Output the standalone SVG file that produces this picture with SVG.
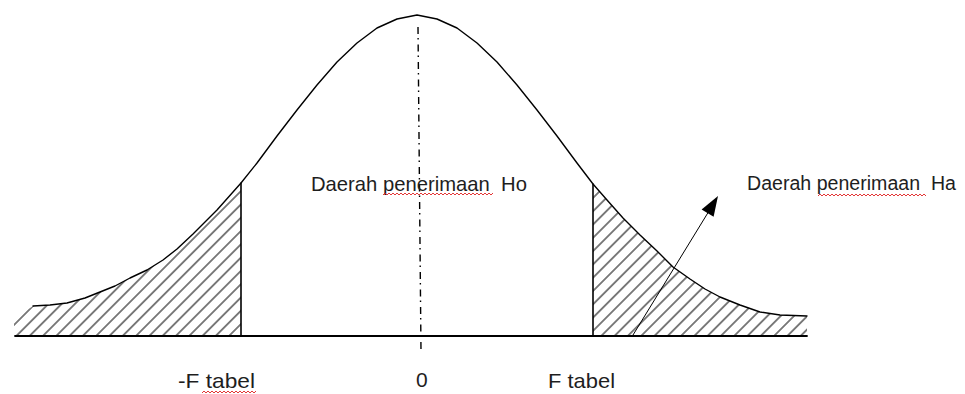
<svg xmlns="http://www.w3.org/2000/svg" width="965" height="394" viewBox="0 0 965 394">
<style>
.ln{fill:none;stroke:#000;stroke-width:1.4;stroke-linejoin:round;stroke-linecap:round}
.tx{font-family:"Liberation Sans",Arial,sans-serif;font-size:21px;fill:#1e1e1e}
.sq{fill:none;stroke:#e02020;stroke-width:0.9}
</style>
<defs>
<pattern id="hatch" patternUnits="userSpaceOnUse" width="9.4" height="10" patternTransform="rotate(45)">
<line x1="4.7" y1="-1" x2="4.7" y2="11" stroke="#000" stroke-width="1"/>
</pattern>
</defs>
<rect width="965" height="394" fill="#fff"/>
<g id="hatch-left">
<path d="M14,336 L14,318 L33,306 L50,305 L67,303 L85,298 L100,292 L115,286 L130,278 L147,270 L163,260 L177,249 L193,234 L217,210 L241,183 L241,336 Z" fill="url(#hatch)"/>
</g>
<g id="hatch-right">
<path d="M593,184 L607,200 L623,218 L640,235 L657,251 L673,267 L690,279 L705,289 L720,297 L740,305 L760,312 L780,315 L807,316 L807,336 L593,336 Z" fill="url(#hatch)"/>
</g>
<g id="curve">
<path class="ln" d="M33,306 L50,305 L67,303 L85,298 L100,292 L115,286 L130,278 L147,270 L163,260 L177,249 L193,234 L217,210 L241,183 L257,163 L277,136 L297,110 L317,85 L337,62 L357,43 L377,28 L397,19 L417,15 L437,19 L457,28 L477,43 L497,62 L517,85 L537,110 L557,136 L577,163 L593,184 L607,200 L623,218 L640,235 L657,251 L673,267 L690,279 L705,289 L720,297 L740,305 L760,312 L780,315 L807,316"/>
</g>
<g id="axes">
<line class="ln" x1="15" y1="336" x2="807" y2="336" style="stroke-width:1.8"/>
<line class="ln" x1="241" y1="183" x2="241" y2="336" style="stroke-width:1.6"/>
<line class="ln" x1="593" y1="184" x2="593" y2="336" style="stroke-width:1.6"/>
<line x1="418" y1="27" x2="421" y2="352" stroke="#000" stroke-width="1.4" stroke-dasharray="7 4 1.5 5"/>
</g>
<g id="connectors">
<line x1="633" y1="335" x2="709" y2="211" stroke="#000" stroke-width="1"/>
<polygon points="718,196 701.6,209.5 713.6,216.8" fill="#000"/>
</g>
<g id="labels">
<text class="tx" x="311" y="191" xml:space="preserve" textLength="216" lengthAdjust="spacingAndGlyphs">Daerah penerimaan  Ho</text>
<path class="sq" d="M383,195 l2,-2 l2,2 l2,-2 l2,2 l2,-2 l2,2 l2,-2 l2,2 l2,-2 l2,2 l2,-2 l2,2 l2,-2 l2,2 l2,-2 l2,2 l2,-2 l2,2 l2,-2 l2,2 l2,-2 l2,2 l2,-2 l2,2 l2,-2 l2,2 l2,-2 l2,2 l2,-2 l2,2 l2,-2 l2,2 l2,-2 l2,2 l2,-2 l2,2 l2,-2 l2,2 l2,-2 l2,2 l2,-2 l2,2 l2,-2 l2,2 l2,-2 l2,2 l2,-2 l2,2 l2,-2 l2,2 l2,-2 l2,2 l2,-2 l2,2 l2,-2"/>
<text class="tx" x="747" y="190" xml:space="preserve" style="font-size:19.6px" textLength="209" lengthAdjust="spacingAndGlyphs">Daerah penerimaan  Ha</text>
<path class="sq" d="M818,196 l2,-2 l2,2 l2,-2 l2,2 l2,-2 l2,2 l2,-2 l2,2 l2,-2 l2,2 l2,-2 l2,2 l2,-2 l2,2 l2,-2 l2,2 l2,-2 l2,2 l2,-2 l2,2 l2,-2 l2,2 l2,-2 l2,2 l2,-2 l2,2 l2,-2 l2,2 l2,-2 l2,2 l2,-2 l2,2 l2,-2 l2,2 l2,-2 l2,2 l2,-2 l2,2 l2,-2 l2,2 l2,-2 l2,2 l2,-2 l2,2 l2,-2 l2,2 l2,-2 l2,2 l2,-2 l2,2 l2,-2 l2,2 l2,-2 l2,2"/>
<text class="tx" x="178" y="388" textLength="77" lengthAdjust="spacingAndGlyphs">-F tabel</text>
<path class="sq" d="M202,393 l2,-2 l2,2 l2,-2 l2,2 l2,-2 l2,2 l2,-2 l2,2 l2,-2 l2,2 l2,-2 l2,2 l2,-2 l2,2 l2,-2 l2,2 l2,-2 l2,2 l2,-2 l2,2 l2,-2 l2,2 l2,-2 l2,2 l2,-2 l2,2 l2,-2"/>
<text class="tx" x="416" y="387">0</text>
<text class="tx" x="548" y="388" textLength="67" lengthAdjust="spacingAndGlyphs">F tabel</text>
</g>
</svg>
